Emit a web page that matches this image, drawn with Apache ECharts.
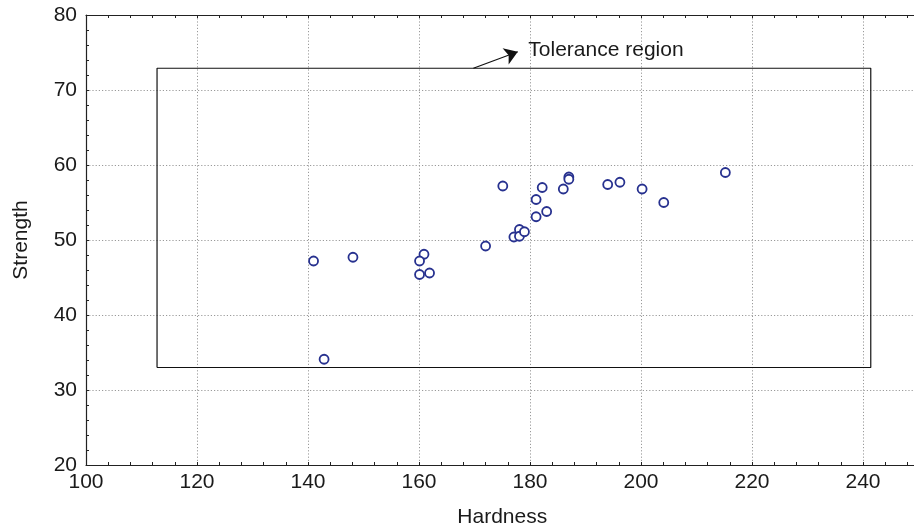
<!DOCTYPE html>
<html>
<head>
<meta charset="utf-8">
<script src="https://cdn.jsdelivr.net/npm/echarts@6/dist/echarts.min.js"></script>
<style>
html,body{margin:0;padding:0;background:#fff;}
#chart{width:914px;height:529px;}
</style>
</head>
<body>
<div id="chart"></div>
<script>
// Data
var hardness = [141.0, 142.9, 148.1, 160.9, 160.1, 160.1, 161.9, 172.0, 175.1, 177.1, 178.1, 178.1, 179.0,
                181.1, 181.1, 182.2, 183.0, 186.0, 187.0, 187.0, 194.0, 196.2, 200.2, 204.1, 215.2];
var strength = [47.2, 34.1, 47.7, 48.1, 47.2, 45.4, 45.6, 49.2, 57.2, 50.4, 51.4, 50.5, 51.1,
                55.4, 53.1, 57.0, 53.8, 56.8, 58.4, 58.1, 57.4, 57.7, 56.8, 55.0, 59.0];
var toleranceX = [112.8, 241.4];
var toleranceY = [33.0, 72.9];
var arrowFrom = [169.8, 72.9];
var arrowTo = [177.8, 75.1];
var annotationText = 'Tolerance region';
var xTicks = [100, 120, 140, 160, 180, 200, 220, 240];
var yTicks = [20, 30, 40, 50, 60, 70, 80];
var xTitle = 'Hardness';
var yTitle = 'Strength';

var points = hardness.map(function (h, i) { return [h, strength[i]]; });
var rect = [
  [toleranceX[0], toleranceY[0]],
  [toleranceX[0], toleranceY[1]],
  [toleranceX[1], toleranceY[1]],
  [toleranceX[1], toleranceY[0]],
  [toleranceX[0], toleranceY[0]]
];

var font = '"Liberation Sans", Arial, Helvetica, sans-serif';
var textColor = '#1a1a1a';
var chart = echarts.init(document.getElementById('chart'), null, {renderer: 'canvas'});

var axisCommon = {
  type: 'value',
  axisLine: {show: true, lineStyle: {color: '#222', width: 1.2}},
  axisTick: {show: true, inside: true, length: 3, lineStyle: {color: '#222'}},
  minorTick: {show: true, splitNumber: 5, length: 3, lineStyle: {color: '#222'}},
  splitLine: {show: true, lineStyle: {color: '#9a9a9a', type: [1.2, 2], width: 1}},
  axisLabel: {color: textColor, fontSize: 21, fontFamily: font}
};

chart.setOption({
  animation: false,
  backgroundColor: '#fff',
  grid: {left: 86, top: 15, height: 450, width: 832.5, containLabel: false, outerBoundsMode: 'none'},
  xAxis: [
    Object.assign({}, axisCommon, {
      min: 100, max: 250, interval: 20,
      position: 'bottom',
      name: xTitle, nameLocation: 'middle', nameGap: 42,
      nameTextStyle: {color: textColor, fontSize: 21, fontFamily: font},
      axisLabel: {color: textColor, fontSize: 21, fontFamily: font, margin: 7,
        formatter: function (v) { return xTicks.indexOf(v) >= 0 ? String(v) : ''; }}
    }),
    Object.assign({}, axisCommon, {
      min: 100, max: 250, interval: 20,
      position: 'top',
      splitLine: {show: false},
      axisLabel: {show: false}
    })
  ],
  yAxis: [
    Object.assign({}, axisCommon, {
      min: 20, max: 80, interval: 10,
      name: yTitle, nameLocation: 'middle', nameGap: 54,
      nameTextStyle: {color: textColor, fontSize: 21, fontFamily: font},
      axisLabel: {color: textColor, fontSize: 21, fontFamily: font, margin: 9,
        formatter: function (v) { return yTicks.indexOf(v) >= 0 ? String(v) : ''; }}
    })
  ],
  series: [
    {
      type: 'line',
      data: rect,
      symbol: 'none',
      lineStyle: {color: '#111', width: 1.2},
      silent: true,
      z: 2,
      markLine: {
        silent: true,
        symbol: ['none', 'arrow'],
        symbolSize: 13,
        lineStyle: {color: '#111', width: 1.2, type: 'solid'},
        itemStyle: {color: '#111'},
        label: {show: false},
        emphasis: {disabled: true},
        data: [[{coord: arrowFrom}, {coord: arrowTo}]]
      }
    },
    {
      type: 'scatter',
      data: [[arrowTo[0] + 1.9, arrowTo[1] + 0.2]],
      symbolSize: 0,
      silent: true,
      itemStyle: {opacity: 1},
      label: {
        show: true, position: 'right', distance: 0,
        formatter: annotationText,
        color: textColor, fontSize: 21, fontFamily: font
      }
    },
    {
      type: 'scatter',
      data: points,
      symbol: 'circle',
      symbolSize: 9,
      itemStyle: {color: '#fff', borderColor: '#27318f', borderWidth: 1.8, opacity: 1},
      z: 5
    }
  ]
});
</script>
</body>
</html>
